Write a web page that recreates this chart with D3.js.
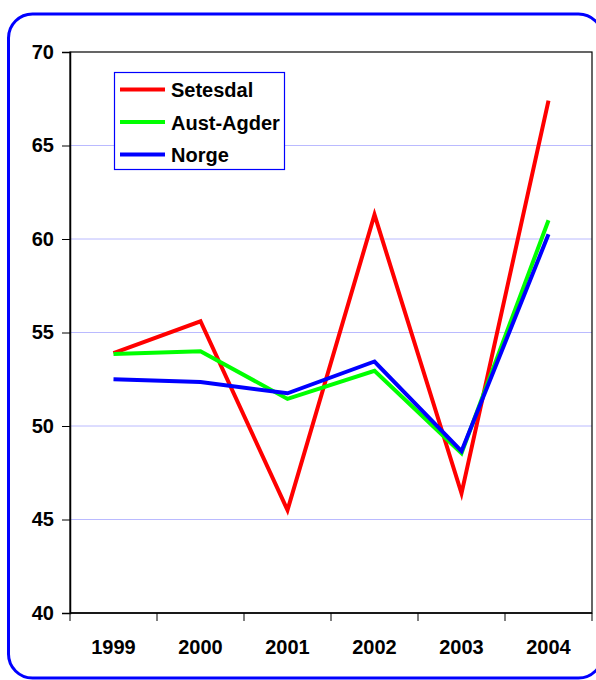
<!DOCTYPE html>
<html><head><meta charset="utf-8">
<script src="https://cdn.jsdelivr.net/npm/d3@7"></script>
<style>html,body{margin:0;padding:0;background:#fff;}svg{display:block;}</style>
</head><body>
<script>
const years = ["1999","2000","2001","2002","2003","2004"];
const setesdal = [53.9, 55.6, 45.5, 61.3, 46.4, 67.4];
const austAgder = [53.85, 54.0, 51.45, 52.95, 48.55, 61.0];
const norge = [52.5, 52.35, 51.75, 53.45, 48.65, 60.25];
const yTicks = [40, 45, 50, 55, 60, 65, 70];
const seriesNames = ["Setesdal", "Aust-Agder", "Norge"];
const seriesColors = ["#ff0000", "#00ff00", "#0000ff"];
const seriesValues = [setesdal, austAgder, norge];

const W = 596, H = 680;
const svg = d3.select("body").append("svg").attr("width", W).attr("height", H);
const font = "'Liberation Sans', Arial, sans-serif";
const fs = 20;

// outer rounded border
svg.append("rect").attr("x", 8.5).attr("y", 14).attr("width", 594).attr("height", 664)
  .attr("rx", 24).attr("ry", 24).attr("fill", "#fff").attr("stroke", "#0000ff").attr("stroke-width", 3);

const L = 70, R = 592, T = 52, B = 613;
const x = d3.scaleBand().domain(years).range([L, R]).padding(0);
const y = d3.scaleLinear().domain([40, 70]).range([B, T]);

// gridlines
svg.append("g").selectAll("line").data(yTicks.filter(d => d > 40 && d < 70)).join("line")
  .attr("x1", L).attr("x2", R).attr("y1", d => y(d)).attr("y2", d => y(d))
  .attr("stroke", "#babaff").attr("stroke-width", 1);

// plot frame
svg.append("rect").attr("x", L).attr("y", T).attr("width", R - L).attr("height", B - T)
  .attr("fill", "none").attr("stroke", "#000").attr("stroke-width", 1.2);

// y axis
const yAxis = d3.axisLeft(y).tickValues(yTicks).tickSize(8).tickPadding(8).tickFormat(d3.format("d"));
const gy = svg.append("g").attr("transform", `translate(${L},0)`).call(yAxis);
gy.select(".domain").attr("stroke", "#000").attr("stroke-width", 1.5);
gy.selectAll(".tick line").attr("stroke", "#000").attr("stroke-width", 1);
gy.selectAll("text").attr("font-family", font).attr("font-weight", "bold").attr("font-size", fs).attr("fill", "#000");

// x axis: ticks at band boundaries
const gx = svg.append("g").attr("transform", `translate(0,${B})`);
gx.append("line").attr("x1", L).attr("x2", R).attr("stroke", "#000").attr("stroke-width", 1.5);
const boundaries = years.map(d => x(d)).concat([x(years[years.length - 1]) + x.bandwidth()]);
gx.selectAll("line.tk").data(boundaries).join("line").attr("class", "tk")
  .attr("x1", d => d).attr("x2", d => d).attr("y1", 0).attr("y2", 8).attr("stroke", "#000").attr("stroke-width", 1);
gx.selectAll("text").data(years).join("text")
  .attr("x", d => x(d) + x.bandwidth() / 2).attr("y", 41)
  .attr("text-anchor", "middle").attr("font-family", font).attr("font-weight", "bold").attr("font-size", fs)
  .text(d => d);

// lines
const line = d3.line().x((d, i) => x(years[i]) + x.bandwidth() / 2).y(d => y(d));
seriesValues.forEach((vals, k) => {
  svg.append("path").datum(vals).attr("d", line).attr("fill", "none")
    .attr("stroke", seriesColors[k]).attr("stroke-width", 4).attr("stroke-linejoin", "miter").attr("stroke-linecap", "butt");
});

// legend
const lg = svg.append("g");
lg.append("rect").attr("x", 114.5).attr("y", 72.5).attr("width", 170).attr("height", 97)
  .attr("fill", "#fff").attr("stroke", "#0000ff").attr("stroke-width", 1.2);
const rowY = [89.5, 122, 154.5];
seriesNames.forEach((n, k) => {
  lg.append("line").attr("x1", 120).attr("x2", 165).attr("y1", rowY[k]).attr("y2", rowY[k])
    .attr("stroke", seriesColors[k]).attr("stroke-width", 4);
  lg.append("text").attr("x", 171).attr("y", rowY[k] + 7.5).attr("font-family", font)
    .attr("font-weight", "bold").attr("font-size", fs).attr("fill", "#000").text(n);
});
</script>
</body></html>
